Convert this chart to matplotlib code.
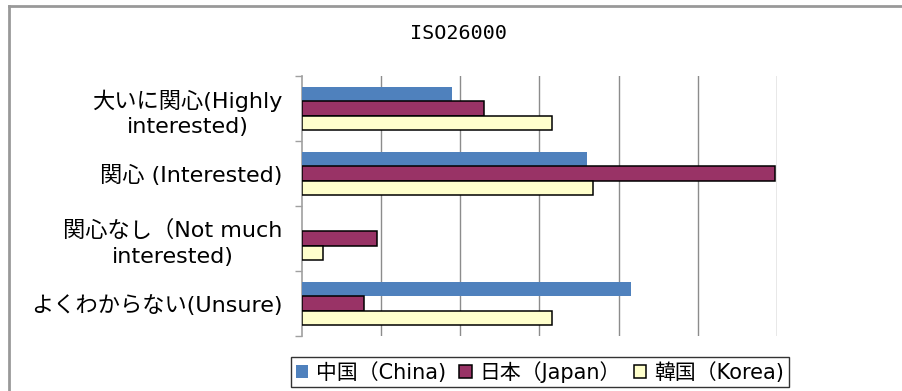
import matplotlib

matplotlib.use("Agg")
import matplotlib.pyplot as plt  # noqa: E402
import numpy as np  # noqa: E402
from matplotlib.lines import Line2D  # noqa: E402

plt.rcParams["font.family"] = ["DejaVu Sans", "Noto Sans CJK JP"]

# survey responses (%), top to bottom
categories = [
    "大いに関心(Highly\ninterested)",
    "関心 (Interested)",
    "関心なし（Not much\ninterested)",
    "よくわからない(Unsure)",
]
series = ["中国（China)", "日本（Japan）", "韓国（Korea)"]
china = [19.0, 36.0, 0.0, 41.6]
japan = [23.0, 59.7, 9.5, 7.8]
korea = [31.6, 36.8, 2.6, 31.6]

colors = ["#4F81BD", "#993366", "#FFFFCC"]
edges = ["none", "black", "black"]

fig = plt.figure(figsize=(9.02, 3.91), dpi=100)
ax = fig.add_axes([0.3348, 0.1407, 0.8614 - 0.3348, 0.8056 - 0.1407])

y = np.arange(len(categories))
h = 0.225
for i, (vals, c, e) in enumerate(zip([china, japan, korea], colors, edges)):
    ax.barh(y + (i - 1) * h, vals, height=h, color=c, edgecolor=e,
            linewidth=1.1, label=series[i], zorder=3)

ax.set_xlim(0, 60)
ax.set_ylim(len(categories) - 0.5, -0.5)
ax.set_xticks(np.arange(10, 61, 10))
ax.tick_params(axis="x", length=0, labelbottom=False)
ax.xaxis.grid(True, color="#8c8c8c", linewidth=1.0, zorder=0)
ax.set_yticks(y)
ax.set_yticklabels(categories, fontsize=16, multialignment="center",
                   linespacing=1.35)
ax.tick_params(axis="y", which="major", length=0, pad=14)
ax.set_yticks(np.arange(-0.5, len(categories)), minor=True)
ax.tick_params(axis="y", which="minor", length=5, color="#a0a0a0", width=1)
for s in ["top", "right", "bottom"]:
    ax.spines[s].set_visible(False)
ax.spines["left"].set_color("#a0a0a0")
ax.spines["left"].set_linewidth(1.2)

fig.text(0.508, 0.915, "ISO26000", ha="center", va="center", fontsize=14.5,
         family=["DejaVu Sans Mono"])

leg = fig.legend(loc="center", bbox_to_anchor=(540 / 902, 1 - 372 / 391),
                 ncol=3, frameon=True, fancybox=False, fontsize=15,
                 handlelength=0.6, handleheight=0.6, handletextpad=0.4,
                 columnspacing=0.6, borderaxespad=0, borderpad=0.2)
leg.get_frame().set_edgecolor("black")
leg.get_frame().set_linewidth(1.0)

# outer chart border
fig.add_artist(Line2D([9 / 902, 9 / 902], [0, 1 - 6 / 391], color="#999999", linewidth=2))
fig.add_artist(Line2D([9 / 902, 1], [1 - 6 / 391, 1 - 6 / 391], color="#999999", linewidth=2))

fig.savefig("out.png", dpi=100)
